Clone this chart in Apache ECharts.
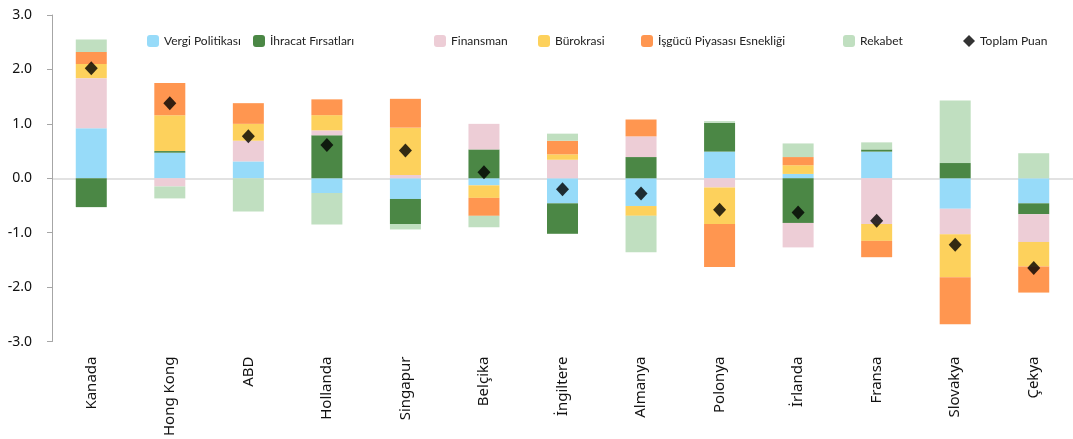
<!DOCTYPE html>
<html>
<head>
<meta charset="utf-8">
<script src="https://cdn.jsdelivr.net/npm/echarts@6/dist/echarts.min.js"></script>
<style>
html,body{margin:0;padding:0;background:#fff;}
#chart{width:1073px;height:439px;}
</style>
</head>
<body>
<div id="chart"></div>
<script>
const categories = ['Kanada','Hong Kong','ABD','Hollanda','Singapur','Belçika','İngiltere','Almanya','Polonya','İrlanda','Fransa','Slovakya','Çekya'];
const vergi     = [0.92, 0.47, 0.31, -0.27, -0.38, -0.13, -0.46, -0.51, 0.49, 0.08, 0.49, -0.56, -0.46];
const ihracat   = [-0.53, 0.03, 0.00, 0.79, -0.46, 0.53, -0.56, 0.39, 0.53, -0.82, 0.04, 0.28, -0.20];
const finansman = [0.92, -0.15, 0.38, 0.09, 0.06, 0.47, 0.34, 0.38, -0.17, -0.45, -0.84, -0.47, -0.51];
const burokrasi = [0.26, 0.66, 0.31, 0.28, 0.87, -0.23, 0.10, -0.18, -0.67, 0.16, -0.31, -0.79, -0.45];
const isgucu    = [0.22, 0.59, 0.38, 0.29, 0.53, -0.33, 0.25, 0.31, -0.79, 0.15, -0.30, -0.86, -0.48];
const rekabet   = [0.23, -0.22, -0.61, -0.58, -0.10, -0.21, 0.13, -0.67, 0.03, 0.25, 0.13, 1.15, 0.46];
const toplam    = [2.02, 1.38, 0.77, 0.61, 0.51, 0.11, -0.20, -0.28, -0.58, -0.63, -0.78, -1.22, -1.65];
const yTicks = [-3, -2, -1, 0, 1, 2, 3];

const names = ['Vergi Politikası','İhracat Fırsatları','Finansman','Bürokrasi','İşgücü Piyasası Esnekliği','Rekabet','Toplam Puan'];
const colors = ['#97dbf9','#4b8745','#edcdd6','#fdd15c','#ff9650','#c0dfc0','#000000'];
const barData = [vergi, ihracat, finansman, burokrasi, isgucu, rekabet];
const legendLeft = [147, 253, 434, 538, 641, 843, 963];
const FONT = "'Noto Sans', 'DejaVu Sans', sans-serif";
const LFONT = "Lato, 'Noto Sans', sans-serif";

const chart = echarts.init(document.getElementById('chart'), null, {renderer:'canvas'});

const series = barData.map((d, i) => ({
  name: names[i],
  type: 'bar',
  stack: 'total',
  data: d,
  barWidth: 31,
  itemStyle: {color: colors[i]},
  emphasis: {disabled: true}
}));
series.push({
  name: names[6],
  type: 'scatter',
  data: toplam,
  symbol: 'diamond',
  symbolSize: [13, 14],
  itemStyle: {color: '#000'},
  z: 10
});

const legends = names.map((n, i) => ({
  data: [n],
  left: legendLeft[i],
  top: 35,
  padding: 0,
  itemWidth: 12,
  itemHeight: 12,
  itemGap: 5,
  textStyle: {fontSize: 12, color: '#222', fontFamily: LFONT},
  selectedMode: false
}));

chart.setOption({
  animation: false,
  backgroundColor: '#fff',
  legend: legends,
  grid: {left: 52, top: 15, width: 1031, height: 331, containLabel: false},
  xAxis: {
    type: 'category',
    data: categories,
    axisLine: {show: false},
    axisTick: {show: false},
    axisLabel: {rotate: 90, margin: 15, fontSize: 15, color: '#111', fontFamily: FONT, interval: 0}
  },
  yAxis: {
    type: 'value',
    min: yTicks[0],
    max: yTicks[yTicks.length - 1],
    interval: 1,
    axisLine: {show: true, lineStyle: {color: '#a6a6a6', width: 1}},
    axisTick: {show: true, inside: false, length: 5, lineStyle: {color: '#a6a6a6'}},
    axisLabel: {margin: 20, fontSize: 14, color: '#111', fontFamily: FONT, formatter: v => v.toFixed(1)},
    splitLine: {show: true, lineStyle: {width: 1.5, color: yTicks.map(v => v === 0 ? '#d9d9d9' : 'rgba(0,0,0,0)')}}
  },
  series: series
});
</script>
</body>
</html>
